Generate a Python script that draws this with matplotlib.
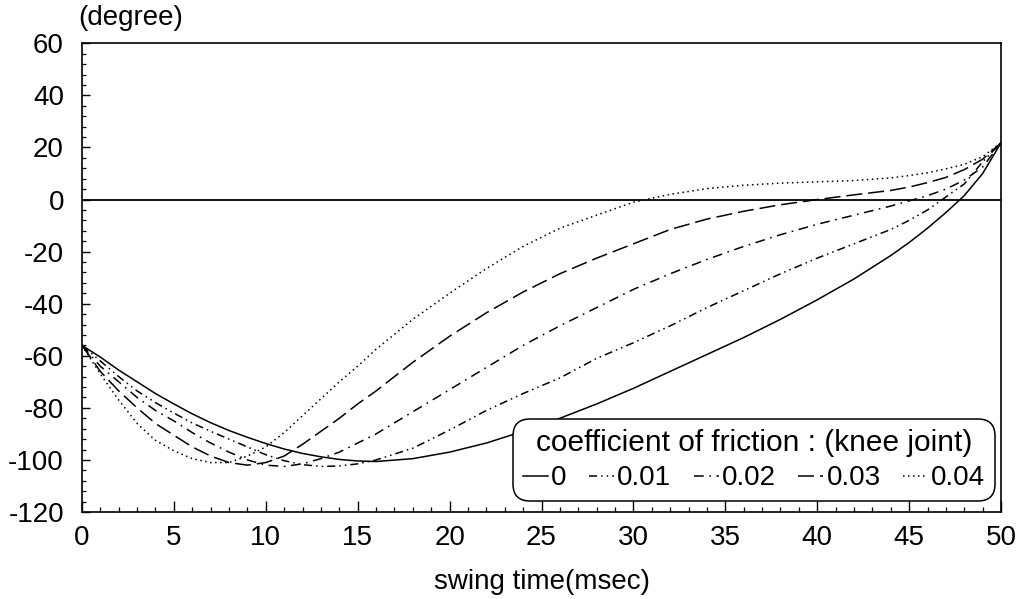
import matplotlib
matplotlib.use("Agg")
import matplotlib.pyplot as plt
from matplotlib.ticker import MultipleLocator

plt.rcParams['font.family'] = ['Liberation Sans', 'DejaVu Sans']
plt.rcParams['axes.unicode_minus'] = False
plt.rcParams['lines.scale_dashes'] = False

# swing time (msec)
t = [0, 1, 2, 3, 4, 5, 6, 7, 8, 9, 10, 11, 12, 13, 14, 15, 16, 18, 20, 22, 24,
     26, 28, 30, 32, 34, 36, 38, 40, 42, 44, 45, 46, 47, 48, 49, 50]

# knee joint angle (degree) for each friction coefficient
mu_000 = [-56, -60.5, -65.5, -70, -74.5, -78.5, -82.3, -85.7, -88.7, -91.3, -93.7,
          -95.8, -97.5, -98.8, -99.8, -100.4, -100.6, -99.5, -97, -93.5, -89,
          -84, -78.5, -72.5, -66, -59.5, -53, -46, -38.5, -30.5, -21.5, -16.5, -11,
          -5, 1.5, 10, 21.8]
mu_001 = [-56, -62, -68, -73.5, -78, -82, -85.8, -89, -92, -95, -98,
          -100.3, -101.8, -102.5, -102.3, -101.5, -100, -95.5, -88.5, -81, -74.5,
          -68.5, -61, -55, -48.5, -41.5, -35, -28.5, -22.5, -17, -11.5, -8, -4,
          1, 6, 14.5, 21.8]
mu_002 = [-56, -64, -70, -76, -81, -85, -89.5, -93.5, -97, -100, -102,
          -102.5, -101.5, -99.5, -97, -93.5, -90, -81.5, -73, -64.5, -56,
          -48.5, -41.5, -34.5, -28.5, -23, -18, -13.5, -9.5, -6, -2.5, -0.5, 1.5,
          4, 7.5, 12.5, 21.8]
mu_003 = [-56, -66, -73.5, -80, -86, -90.5, -95, -98.5, -101, -102, -101,
          -98.5, -94, -89, -84, -78.5, -73.5, -62.5, -52.5, -43.5, -35.5,
          -28.5, -22.5, -17, -11.5, -7.5, -4.5, -2, 0, 1.8, 3.5, 4.8, 6.5,
          8.5, 11.5, 15.5, 21.8]
mu_004 = [-56, -67, -77, -86, -92.5, -96.5, -99.5, -101, -101, -98.5, -95,
          -89.5, -83, -76.5, -70, -64, -57.5, -46, -36, -26.5, -18,
          -11, -6, -1, 2, 4.2, 5.5, 6.3, 6.8, 7.3, 8.3, 9.2, 10.3,
          11.8, 13.5, 16.5, 21.8]

series = [mu_000, mu_001, mu_002, mu_003, mu_004]
labels = ['0', '0.01', '0.02', '0.03', '0.04']
styles = ['-',
          (0, (5.8, 2.9, 1.1, 2.9, 1.1, 2.9)),
          (0, (7, 4, 1.2, 4)),
          (0, (11.5, 4.3)),
          (0, (1.1, 2.5))]

fig = plt.figure(figsize=(10.22, 5.99), dpi=100)
ax = fig.add_axes([0.0802, 0.1452, 0.8993, 0.7825])

ax.axhline(0, color='k', lw=1.3, zorder=1)
for y, lab, ls in zip(series, labels, styles):
    ax.plot(t, y, color='k', lw=1.1, linestyle=ls, label=lab)

ax.set_xlim(0, 50)
ax.set_ylim(-120, 60)
ax.xaxis.set_major_locator(MultipleLocator(5))
ax.xaxis.set_minor_locator(MultipleLocator(1))
ax.yaxis.set_major_locator(MultipleLocator(20))
ax.yaxis.set_minor_locator(MultipleLocator(4))

ax.tick_params(axis='x', which='major', direction='in', length=8, width=1,
               labelsize=20, pad=9)
ax.tick_params(axis='x', which='minor', direction='in', length=3.6, width=0.9)
ax.tick_params(axis='y', which='major', direction='in', length=6, width=1,
               labelsize=20, pad=13)
ax.tick_params(axis='y', which='minor', direction='in', length=3, width=0.9)
for s in ax.spines.values():
    s.set_linewidth(1.2)

ax.set_xlabel('swing time(msec)', fontsize=20, labelpad=13)
fig.text(0.0763, 0.958, '(degree)', fontsize=20, va='baseline', ha='left')

leg = ax.legend(loc='lower right', bbox_to_anchor=(0.9935, 0.0235), ncol=5,
                title='coefficient of friction : (knee joint)',
                fontsize=20, title_fontsize=21.5, frameon=True, fancybox=True,
                handlelength=0.9, handletextpad=0.12, columnspacing=0.8,
                borderpad=0.35, labelspacing=0.3, borderaxespad=0)
frame = leg.get_frame()
frame.set_edgecolor('k')
frame.set_linewidth(1.1)
frame.set_alpha(1)
frame.set_boxstyle('round', pad=0, rounding_size=0.6)

fig.savefig('out.png', dpi=100)
